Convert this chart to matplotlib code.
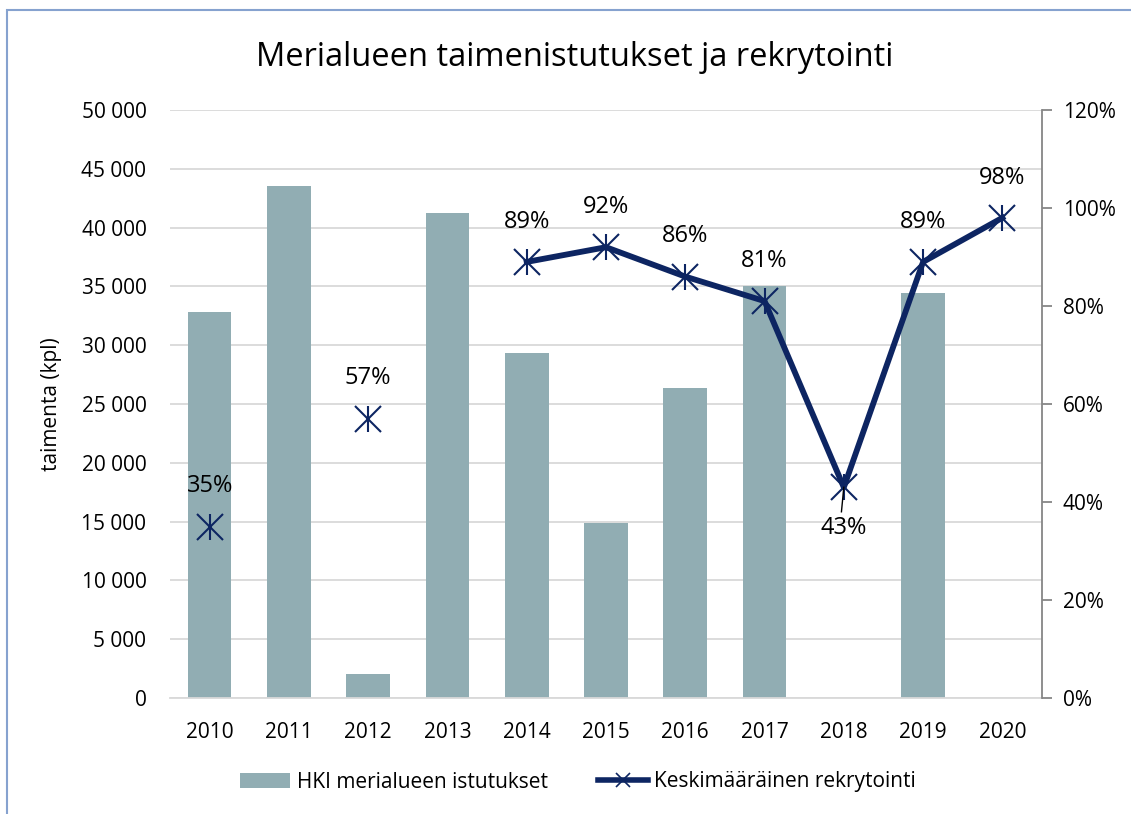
import matplotlib
matplotlib.use("Agg")
import matplotlib.pyplot as plt
import numpy as np
from matplotlib.ticker import FuncFormatter, MultipleLocator
from matplotlib.lines import Line2D
from matplotlib.patches import Patch, Rectangle

plt.rcParams['font.family'] = ['Open Sans', 'DejaVu Sans']

years = ["2010", "2011", "2012", "2013", "2014", "2015", "2016", "2017", "2018", "2019", "2020"]
stocking = [32800, 43500, 2000, 41200, 29300, 14900, 26400, 35000, np.nan, 34400, np.nan]
recruitment = [35, np.nan, 57, np.nan, 89, 92, 86, 81, 43, 89, 98]

title = "Merialueen taimenistutukset ja rekrytointi"
ylabel = "taimenta (kpl)"
bar_label = "HKI merialueen istutukset"
line_label = "Keskimääräinen rekrytointi"

bar_color = "#91adb3"
line_color = "#0d2562"
grid_color = "#d9d9d9"

fig = plt.figure(figsize=(11.31, 8.14), dpi=100)
ax = fig.add_axes([170/1131, 1-698/814, (1042-170)/1131, (698-110)/814])
x = np.arange(len(years))
ax.bar(x, stocking, width=0.55, color=bar_color, zorder=2)
ax.set_xlim(-0.5, len(years)-0.5)
ax.set_ylim(0, 50000)
ax.yaxis.set_major_locator(MultipleLocator(5000))
ax.yaxis.set_major_formatter(FuncFormatter(lambda v, p: f"{int(v):,}".replace(",", " ")))
ax.grid(axis='y', color=grid_color, linewidth=1.3, zorder=0)
ax.set_axisbelow(True)
for s in ['top', 'left', 'right']:
    ax.spines[s].set_visible(False)
ax.spines['bottom'].set_color(grid_color)
ax.spines['bottom'].set_linewidth(1.3)
ax.tick_params(axis='both', length=0, labelsize=15, colors='black')
ax.tick_params(axis='y', pad=17)
ax.tick_params(axis='x', pad=17)
ax.set_xticks(x)
ax.set_xticklabels(years)
ax.set_ylabel(ylabel, fontsize=15, labelpad=14)

ax2 = ax.twinx()
ax2.set_ylim(0, 120)
ax2.yaxis.set_major_locator(MultipleLocator(20))
ax2.yaxis.set_major_formatter(FuncFormatter(lambda v, p: f"{int(v)}%"))
for s in ['top', 'left', 'bottom']:
    ax2.spines[s].set_visible(False)
ax2.spines['right'].set_color('#868686')
ax2.spines['right'].set_linewidth(1.3)
ax2.tick_params(axis='y', length=7, width=1.3, color='#868686', labelsize=15, pad=8)

rec = np.array(recruitment, dtype=float)
ax2.plot(x, rec, color=line_color, linewidth=4.2, zorder=3)
ax2.plot(x, rec, linestyle='none', marker='x', markersize=19, markeredgewidth=1.5,
         color=line_color, zorder=4)
ax2.plot(x, rec, linestyle='none', marker='|', markersize=19, markeredgewidth=1.5,
         color=line_color, zorder=4)

for xi, v in zip(x, rec):
    if np.isnan(v):
        continue
    if v < 50 and xi > 5:
        ax2.annotate(f"{int(v)}%", (xi, v), xytext=(0, -29), textcoords='offset points',
                     ha='center', va='center', fontsize=17)
        ax2.plot([xi, xi - 0.03], [v, v - 5], color='black', linewidth=1, zorder=5)
    else:
        ax2.annotate(f"{int(v)}%", (xi, v), xytext=(0, 29), textcoords='offset points',
                     ha='center', va='center', fontsize=17)

fig.text(575/1131, 1-57/814, title, ha='center', va='center', fontsize=23.5)

handles = [Patch(facecolor=bar_color, edgecolor='none'),
           Line2D([0], [0], color=line_color, linewidth=4, marker='x', markersize=10,
                  markeredgewidth=1.2)]
fig.legend(handles, [bar_label, line_label], loc='center', bbox_to_anchor=(578/1131, 1-782/814),
           ncol=2, frameon=False, fontsize=15, handlelength=2.4, handletextpad=0.3,
           columnspacing=2.4)

fig.add_artist(Rectangle((7/1131, -0.1), 1.2, 1 - 10/814 + 0.1, transform=fig.transFigure,
                         fill=False, edgecolor='#86a2cf', linewidth=1.5))

fig.savefig("out.png", dpi=100)
